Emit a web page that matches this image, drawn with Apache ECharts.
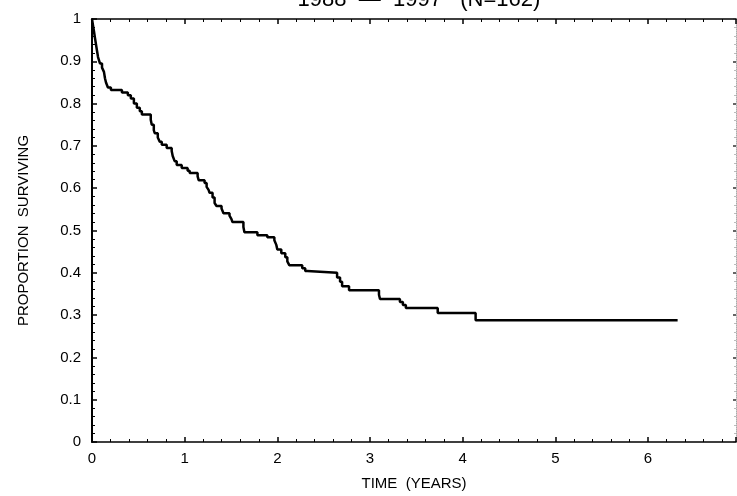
<!DOCTYPE html>
<html><head><meta charset="utf-8">
<script src="https://cdn.jsdelivr.net/npm/echarts/dist/echarts.min.js"></script>
<style>html,body{margin:0;padding:0;background:#fff}#c{width:737px;height:496px}</style>
</head><body><div id="c"></div>
<script>
const titleText = '1988  —  1997   (N=162)';
const xAxisName = 'TIME  (YEARS)';
const yAxisName = 'PROPORTION  SURVIVING';
// Kaplan-Meier step points: time (years) and survival after each event
const timeYears = [0, 0.011, 0.022, 0.032, 0.043, 0.054, 0.065, 0.086, 0.108, 0.129, 0.14, 0.151, 0.172, 0.204, 0.323, 0.387, 0.419, 0.452, 0.484, 0.516, 0.538, 0.634, 0.645, 0.667, 0.677, 0.71, 0.731, 0.753, 0.806, 0.86, 0.871, 0.892, 0.914, 0.968, 1.032, 1.054, 1.14, 1.151, 1.215, 1.237, 1.258, 1.269, 1.301, 1.323, 1.344, 1.398, 1.419, 1.484, 1.505, 1.516, 1.634, 1.645, 1.785, 1.892, 1.968, 1.989, 2.0, 2.043, 2.086, 2.108, 2.129, 2.269, 2.301, 2.323, 2.645, 2.677, 2.699, 2.774, 3.097, 3.108, 3.323, 3.355, 3.387, 3.731, 4.14, 6.32];
const survival = [1.0, 0.985, 0.97, 0.955, 0.94, 0.925, 0.91, 0.895, 0.885, 0.875, 0.86, 0.85, 0.838, 0.832, 0.826, 0.82, 0.812, 0.80, 0.79, 0.782, 0.774, 0.762, 0.75, 0.737, 0.73, 0.72, 0.71, 0.703, 0.695, 0.688, 0.676, 0.664, 0.655, 0.648, 0.641, 0.636, 0.628, 0.619, 0.612, 0.603, 0.596, 0.589, 0.578, 0.565, 0.558, 0.552, 0.541, 0.535, 0.527, 0.52, 0.508, 0.496, 0.489, 0.484, 0.477, 0.466, 0.455, 0.446, 0.437, 0.427, 0.418, 0.411, 0.404, 0.40, 0.389, 0.379, 0.368, 0.359, 0.348, 0.338, 0.331, 0.324, 0.317, 0.305, 0.288, 0.288];
const xMin = 0, xMax = 6.95, xStep = 1;
const yMin = 0, yMax = 1, yStep = 0.1;

const chart = echarts.init(document.getElementById('c'), null, {renderer: 'canvas'});
const fontFam = 'Liberation Sans, Arial, sans-serif';
const narrow = 'Liberation Sans Narrow, Liberation Sans, Arial, sans-serif';
const baseX = {
  type: 'value', min: xMin, max: xMax, interval: xStep,
  splitLine: {show: false},
  axisLine: {show: true, onZero: false, lineStyle: {color: '#000', width: 1.5}},
  axisTick: {show: true, inside: true, length: 5, lineStyle: {color: '#000', width: 1.5}},
  minorTick: {show: true, splitNumber: 5, length: 3, lineStyle: {color: '#000', width: 1}},
  minorSplitLine: {show: false}
};
chart.setOption({
  animation: false,
  backgroundColor: '#fff',
  title: {text: titleText, left: 414, textAlign: 'center', top: -16,
    textStyle: {fontFamily: fontFam, fontSize: 22, fontWeight: 'normal', color: '#000'}},
  grid: {left: 92, top: 19, width: 644, height: 423, containLabel: false, outerBoundsMode: 'none'},
  xAxis: [
    Object.assign({}, baseX, {
      position: 'bottom',
      name: xAxisName, nameLocation: 'middle', nameGap: 34,
      nameTextStyle: {fontFamily: narrow, fontSize: 15, color: '#000'},
      axisLabel: {show: true, margin: 9, color: '#000', fontFamily: fontFam, fontSize: 15,
        showMaxLabel: false,
        formatter: v => (Math.abs(v - Math.round(v)) < 1e-6 ? String(Math.round(v)) : '')}
    }),
    Object.assign({}, baseX, {position: 'top', axisLabel: {show: false}})
  ],
  yAxis: [
    {type: 'value', min: yMin, max: yMax, interval: yStep, position: 'left',
      name: yAxisName, nameLocation: 'middle', nameGap: 61, nameRotate: 90,
      nameTextStyle: {fontFamily: narrow, fontSize: 15, color: '#000'},
      splitLine: {show: false},
      axisLine: {show: true, onZero: false, lineStyle: {color: '#000', width: 2}},
      axisTick: {show: true, inside: true, length: 5, lineStyle: {color: '#000', width: 1.5}},
      minorTick: {show: true, splitNumber: 5, length: 3, lineStyle: {color: '#000', width: 1}},
      axisLabel: {margin: 11, color: '#000', fontFamily: fontFam, fontSize: 15,
        formatter: v => (v === 0 ? '0' : v === 1 ? '1' : v.toFixed(1))}
    },
    {type: 'value', min: yMin, max: yMax, interval: yStep, position: 'right',
      splitLine: {show: false},
      axisLine: {show: true, onZero: false, lineStyle: {color: '#aaa', width: 1, type: 'dotted'}},
      axisTick: {show: true, inside: true, length: 3, lineStyle: {color: '#333', width: 1.5}},
      minorTick: {show: true, splitNumber: 5, length: 2, lineStyle: {color: '#bbb', width: 1}},
      axisLabel: {show: false}
    }
  ],
  series: [{
    type: 'line', step: 'end', showSymbol: false, symbol: 'none',
    xAxisIndex: 0, yAxisIndex: 0,
    lineStyle: {color: '#000', width: 2.5},
    data: timeYears.map((t, i) => [t, survival[i]])
  }]
});
</script></body></html>
